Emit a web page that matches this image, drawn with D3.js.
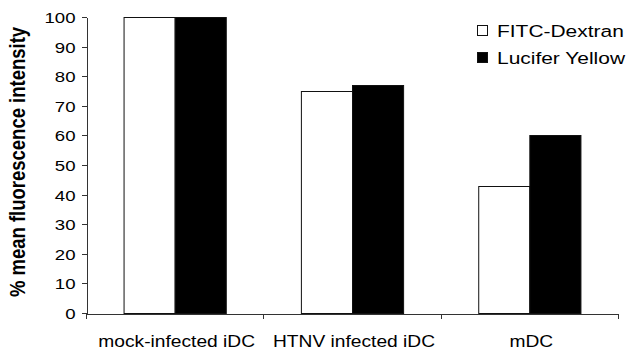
<!DOCTYPE html>
<html>
<head>
  <meta charset="utf-8">
  <title>Mean fluorescence intensity</title>
  <style>
    body { margin: 0; background: #fff; }
    svg { display: block; }
    text { font-family: "Liberation Sans", Arial, sans-serif; fill: #000; }
    .axis path, .axis line { fill: none; stroke: #333; shape-rendering: crispEdges; }
  </style>
  <script src="https://d3js.org/d3.v7.min.js"></script>
</head>
<body>
  <div id="chart"></div>
  <script>
    // data
    var categories = ["mock-infected iDC", "HTNV infected iDC", "mDC"];
    var series = ["FITC-Dextran", "Lucifer Yellow"];
    var fitcValues = [100, 75, 43];
    var luciferValues = [100, 77, 60];
    var yTicks = [0, 10, 20, 30, 40, 50, 60, 70, 80, 90, 100];
    var seriesFill = ["#fff", "#000"];

    var width = 632, height = 351;
    var stretch = 1.2; // the source picture is a bit wider than tall

    var svg = d3.select("#chart").append("svg")
        .attr("width", width)
        .attr("height", height);

    var x = d3.scaleBand()
      .domain(categories)
      .range([86, 618])
      .padding(0);

    var x1 = d3.scaleBand()
      .domain(series)
      .range([0, x.bandwidth()])
      .paddingInner(0)
      .paddingOuter(0.735);

    var y = d3.scaleLinear()
      .domain([0, 100])
      .range([313, 17]);

    var rows = categories.map(function(c, i) {
      return { cat: c, values: [fitcValues[i], luciferValues[i]] };
    });

    // bars
    var groups = svg.append("g").selectAll("g")
      .data(rows)
      .join("g")
        .attr("transform", function(d) { return "translate(" + x(d.cat) + ",0)"; });

    groups.selectAll("rect")
      .data(function(d) { return d.values.map(function(v, j) { return { s: series[j], v: v, j: j }; }); })
      .join("rect")
        .attr("x", function(d) { return x1(d.s) + 0.5; })
        .attr("y", function(d) { return Math.round(y(d.v)) + 0.5; })
        .attr("width", x1.bandwidth())
        .attr("height", function(d) { return y(0) - Math.round(y(d.v)); })
        .attr("fill", function(d) { return seriesFill[d.j]; })
        .attr("stroke", "#111")
        .attr("stroke-width", 1);

    // y axis
    var yAxis = svg.append("g")
      .attr("class", "axis")
      .attr("transform", "translate(86.5,0)")
      .call(d3.axisLeft(y).tickValues(yTicks).tickSize(5).tickSizeOuter(0));

    yAxis.selectAll("text")
      .attr("x", null)
      .attr("dy", "0.35em")
      .attr("transform", "translate(-11,0) scale(" + stretch + ",1)")
      .style("font-size", "15.5px");

    // x axis
    var xAxis = svg.append("g")
      .attr("class", "axis")
      .attr("transform", "translate(0,313.5)")
      .call(d3.axisBottom(x).tickSize(0).tickSizeOuter(0));

    xAxis.selectAll("text")
      .attr("y", null)
      .attr("dy", null)
      .attr("transform", "translate(2,33) scale(" + stretch + ",1)")
      .style("font-size", "16px");

    // separators between categories
    var edges = [x(categories[0])].concat(categories.map(function(c) { return x(c) + x.bandwidth(); }));
    xAxis.selectAll(".sep")
      .data(edges)
      .join("line")
        .attr("class", "sep")
        .attr("x1", function(d) { return Math.round(d) + 0.5; })
        .attr("x2", function(d) { return Math.round(d) + 0.5; })
        .attr("y1", 0)
        .attr("y2", 5);

    // y title
    svg.append("text")
      .attr("transform", "translate(25,162) scale(" + stretch + ",1) rotate(-90)")
      .attr("text-anchor", "middle")
      .style("font-size", "18.5px")
      .style("font-weight", "bold")
      .text("% mean fluorescence intensity");

    // legend
    var legend = svg.append("g").selectAll("g")
      .data(series)
      .join("g")
        .attr("transform", function(d, i) { return "translate(477," + (25 + i * 27) + ")"; });

    legend.append("rect")
      .attr("x", 0.5)
      .attr("y", 0.5)
      .attr("width", 10)
      .attr("height", 10)
      .attr("fill", function(d, i) { return seriesFill[i]; })
      .attr("stroke", "#111");

    legend.append("text")
      .attr("transform", "translate(20,11.5) scale(1.27,1)")
      .style("font-size", "16.5px")
      .text(function(d) { return d; });
  </script>
</body>
</html>
